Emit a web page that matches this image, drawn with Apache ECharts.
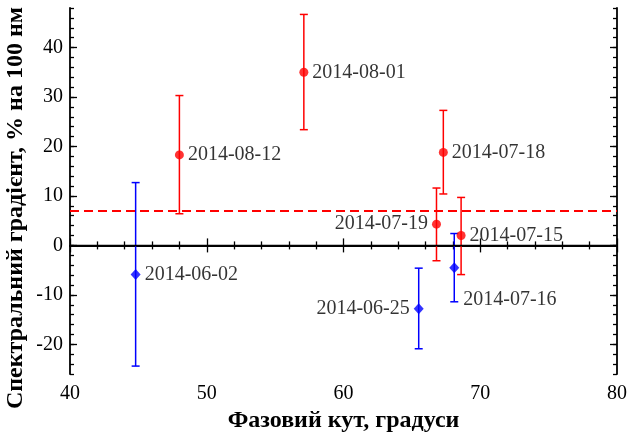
<!DOCTYPE html>
<html>
<head>
<meta charset="utf-8">
<script src="https://cdn.jsdelivr.net/npm/echarts@6/dist/echarts.min.js"></script>
<style>
  html, body { margin: 0; padding: 0; background: #fff; }
  #chart { width: 628px; height: 433px; }
</style>
</head>
<body>
<div id="chart"></div>
<script>
// Red group: observations in July–August 2014
const redDates = ['2014-08-12', '2014-08-01', '2014-07-18', '2014-07-19', '2014-07-15'];
const redPhase = [48.0, 57.1, 67.3, 66.8, 68.6];
const redGrad  = [18.3, 35.0, 18.8, 4.3, 2.0];
const redLow   = [6.4, 23.4, 10.4, -3.1, -5.9];
const redHigh  = [30.3, 46.7, 27.3, 11.6, 9.7];

// Blue group: observations in June–July 2014
const blueDates = ['2014-06-02', '2014-06-25', '2014-07-16'];
const bluePhase = [44.8, 65.5, 68.1];
const blueGrad  = [-5.9, -12.8, -4.5];
const blueLow   = [-24.4, -20.9, -11.4];
const blueHigh  = [12.7, -4.6, 2.4];

// Reference levels
const meanGradient = 7.0;
const zeroLevel = 0;

// Axis ticks
const yMajorTicks = [-20, -10, 0, 10, 20, 30, 40];

const RED = '#ff0000';
const BLUE = '#0000ff';
const INK = '#000000';
const SERIF = '"Liberation Serif", "Times New Roman", "DejaVu Serif", serif';

// Labels placed to the left of their marker
const leftLabelled = ['2014-07-19', '2014-06-25'];
// Labels placed below-right of their marker
const belowLabelled = ['2014-07-16'];

function pointLabel(date) {
  if (leftLabelled.includes(date)) {
    return { position: 'left', distance: 4 };
  }
  if (belowLabelled.includes(date)) {
    return { position: 'right', distance: 4, offset: [0, 32] };
  }
  return { position: 'right', distance: 4 };
}

function scatterData(dates, xs, ys) {
  return dates.map((d, i) => ({
    value: [xs[i], ys[i]],
    name: d,
    label: pointLabel(d)
  }));
}

function errorData(xs, lo, hi) {
  return xs.map((x, i) => [x, lo[i], hi[i]]);
}

function renderErrorBar(color) {
  return function (params, api) {
    const x = api.value(0);
    const top = api.coord([x, api.value(2)]);
    const bot = api.coord([x, api.value(1)]);
    const cap = 4;
    const style = { stroke: color, lineWidth: 1.5 };
    return {
      type: 'group',
      children: [
        { type: 'line', shape: { x1: top[0], y1: top[1], x2: bot[0], y2: bot[1] }, style },
        { type: 'line', shape: { x1: top[0] - cap, y1: top[1], x2: top[0] + cap, y2: top[1] }, style },
        { type: 'line', shape: { x1: bot[0] - cap, y1: bot[1], x2: bot[0] + cap, y2: bot[1] }, style }
      ]
    };
  };
}

const axisLineStyle = { show: true, lineStyle: { color: INK, width: 1.8 } };
const tickStyle = { color: INK, width: 1.3 };
const labelFont = { fontFamily: SERIF, fontSize: 20, color: INK };

const chart = echarts.init(document.getElementById('chart'), null, { renderer: 'canvas' });

chart.setOption({
  animation: false,
  backgroundColor: '#fff',
  grid: { left: 70, right: 11, top: 8, bottom: 59, containLabel: false, outerBoundsMode: 'none' },
  graphic: [
    {
      type: 'text',
      x: 16, y: 208,
      rotation: Math.PI / 2,
      style: {
        text: 'Спектральний градієнт, % на 100 нм',
        fontFamily: SERIF, fontSize: 24, fontWeight: 'bold', fill: INK,
        align: 'center', verticalAlign: 'middle'
      }
    }
  ],
  xAxis: [
    {
      type: 'value', position: 'bottom', min: 40, max: 80, interval: 10,
      axisLine: axisLineStyle,
      axisTick: { inside: true, length: 7, lineStyle: tickStyle },
      minorTick: { show: true, splitNumber: 5, length: 4, lineStyle: tickStyle },
      axisLabel: Object.assign({ margin: 10 }, labelFont),
      splitLine: { show: false },
      name: 'Фазовий кут, градуси',
      nameLocation: 'middle', nameGap: 33,
      nameTextStyle: { fontFamily: SERIF, fontSize: 24, fontWeight: 'bold', color: INK, verticalAlign: 'top' }
    },
    {
      type: 'value', position: 'top', min: 40, max: 80, interval: 10,
      axisLine: axisLineStyle,
      axisTick: { inside: true, length: 7, lineStyle: tickStyle },
      minorTick: { show: true, splitNumber: 5, length: 4, lineStyle: tickStyle },
      axisLabel: { show: false },
      splitLine: { show: false }
    }
  ],
  yAxis: [
    {
      type: 'value', position: 'left', min: -26, max: 48,
      axisLine: axisLineStyle,
      axisTick: { inside: true, length: 7, customValues: yMajorTicks, lineStyle: tickStyle },
      axisLabel: Object.assign({ margin: 7, customValues: yMajorTicks }, labelFont),
      splitLine: { show: false }
    },
    {
      type: 'value', position: 'left', min: -26, max: 48, interval: 2,
      axisLine: { show: false },
      axisTick: { inside: true, length: 4, lineStyle: tickStyle },
      axisLabel: { show: false },
      splitLine: { show: false }
    },
    {
      type: 'value', position: 'right', min: -26, max: 48,
      axisLine: axisLineStyle,
      axisTick: { inside: true, length: 7, customValues: yMajorTicks, lineStyle: tickStyle },
      axisLabel: { show: false, customValues: yMajorTicks },
      splitLine: { show: false }
    },
    {
      type: 'value', position: 'right', min: -26, max: 48, interval: 2,
      axisLine: { show: false },
      axisTick: { inside: true, length: 4, lineStyle: tickStyle },
      axisLabel: { show: false },
      splitLine: { show: false }
    }
  ],
  series: [
    {
      // reference lines: zero level and mean gradient
      type: 'line', data: [], xAxisIndex: 0, yAxisIndex: 0,
      markLine: {
        silent: true, symbol: 'none', label: { show: false },
        data: [
          { yAxis: zeroLevel, lineStyle: { color: INK, width: 1.3, type: 'solid' } },
          { yAxis: meanGradient, lineStyle: { color: RED, width: 2.2, type: [9, 5] } }
        ]
      },
      z: 1
    },
    {
      type: 'custom', xAxisIndex: 0, yAxisIndex: 0,
      renderItem: renderErrorBar(RED),
      data: errorData(redPhase, redLow, redHigh),
      encode: { x: 0, y: [1, 2] }, z: 2
    },
    {
      type: 'custom', xAxisIndex: 0, yAxisIndex: 0,
      renderItem: renderErrorBar(BLUE),
      data: errorData(bluePhase, blueLow, blueHigh),
      encode: { x: 0, y: [1, 2] }, z: 2
    },
    {
      type: 'scatter', xAxisIndex: 0, yAxisIndex: 0,
      symbol: 'circle', symbolSize: 9,
      itemStyle: { color: RED },
      label: { show: true, formatter: '{b}', fontFamily: SERIF, fontSize: 20, color: INK },
      data: scatterData(redDates, redPhase, redGrad), z: 3
    },
    {
      type: 'scatter', xAxisIndex: 0, yAxisIndex: 0,
      symbol: 'diamond', symbolSize: [10, 11],
      itemStyle: { color: BLUE },
      label: { show: true, formatter: '{b}', fontFamily: SERIF, fontSize: 20, color: INK },
      data: scatterData(blueDates, bluePhase, blueGrad), z: 3
    }
  ]
});
</script>
</body>
</html>
